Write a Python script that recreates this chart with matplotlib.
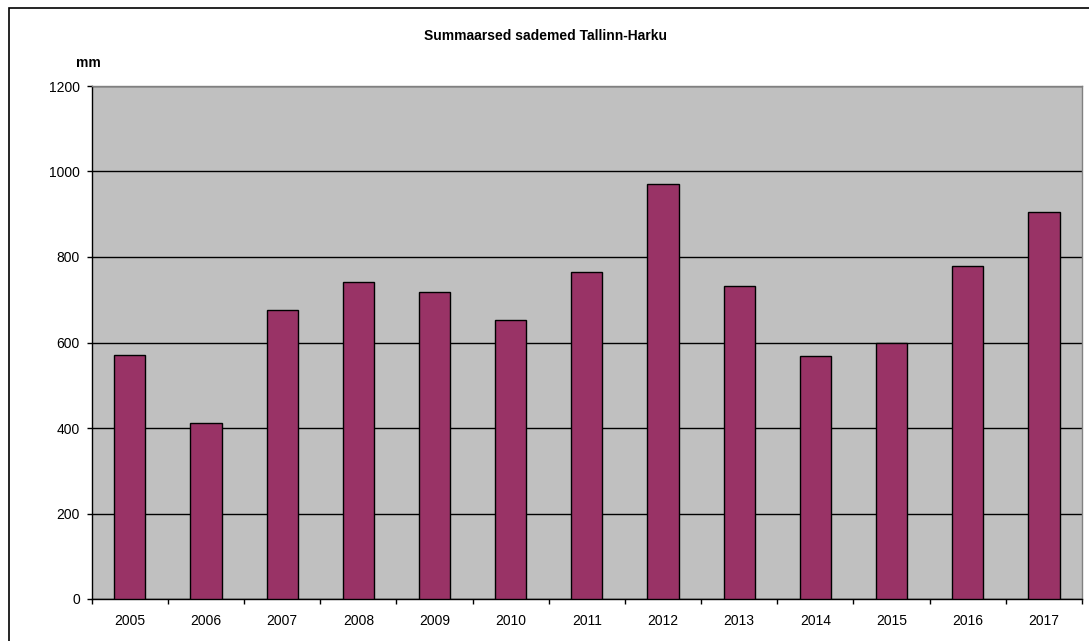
import matplotlib
matplotlib.use("Agg")
import matplotlib.pyplot as plt
from matplotlib.patches import Rectangle
import numpy as np

years = ["2005", "2006", "2007", "2008", "2009", "2010", "2011",
         "2012", "2013", "2014", "2015", "2016", "2017"]
precip = [570, 411, 676, 741, 718, 653, 765, 971, 731, 568, 600, 780, 905]
yticks = [0, 200, 400, 600, 800, 1000, 1200]

plt.rcParams['font.family'] = ['Liberation Sans', 'DejaVu Sans']

fig = plt.figure(figsize=(10.89, 6.41), dpi=100)
fig.patch.set_facecolor('white')
ax = fig.add_axes([91.7 / 1089, 1 - 599 / 641, (1082 - 91.7) / 1089, (599 - 86) / 641])
ax.set_facecolor('#C0C0C0')

x = np.arange(len(years))
ax.bar(x, precip, width=0.41, color='#993366', edgecolor='black', linewidth=1.0, zorder=3)

ax.set_xlim(-0.5, len(years) - 0.5)
ax.set_ylim(0, 1200)
ax.set_yticks(yticks)
ax.set_yticklabels([str(v) for v in yticks], fontsize=10)
ax.yaxis.grid(True, color='black', linewidth=1.0, zorder=1)
ax.set_axisbelow(True)

ax.set_xticks(x)
ax.set_xticklabels(years, fontsize=10)
ax.tick_params(axis='x', which='major', length=0, pad=11)
ax.set_xticks(np.arange(-0.5, len(years), 1.0), minor=True)
ax.tick_params(axis='x', which='minor', length=3.6, width=1, direction='out', color='black')
ax.tick_params(axis='y', length=3.6, width=1, direction='out', pad=5)

for s in ['top', 'right']:
    ax.spines[s].set_color('#808080')
    ax.spines[s].set_linewidth(1.0)
for s in ['left', 'bottom']:
    ax.spines[s].set_color('black')
    ax.spines[s].set_linewidth(1.0)

fig.text(545 / 1089, 1 - 35.5 / 641, "Summaarsed sademed Tallinn-Harku",
         ha='center', va='center', fontsize=10, fontweight='bold')
fig.text(88.5 / 1089, 1 - 63 / 641, "mm", ha='center', va='center',
         fontsize=10, fontweight='bold')

# outer chart border
fig.patches.append(Rectangle((9 / 1089, -0.05), 1.1, 1 - 8 / 641 + 0.05,
                             transform=fig.transFigure, fill=False,
                             edgecolor='black', linewidth=1.2))

fig.savefig("out.png", dpi=100)
